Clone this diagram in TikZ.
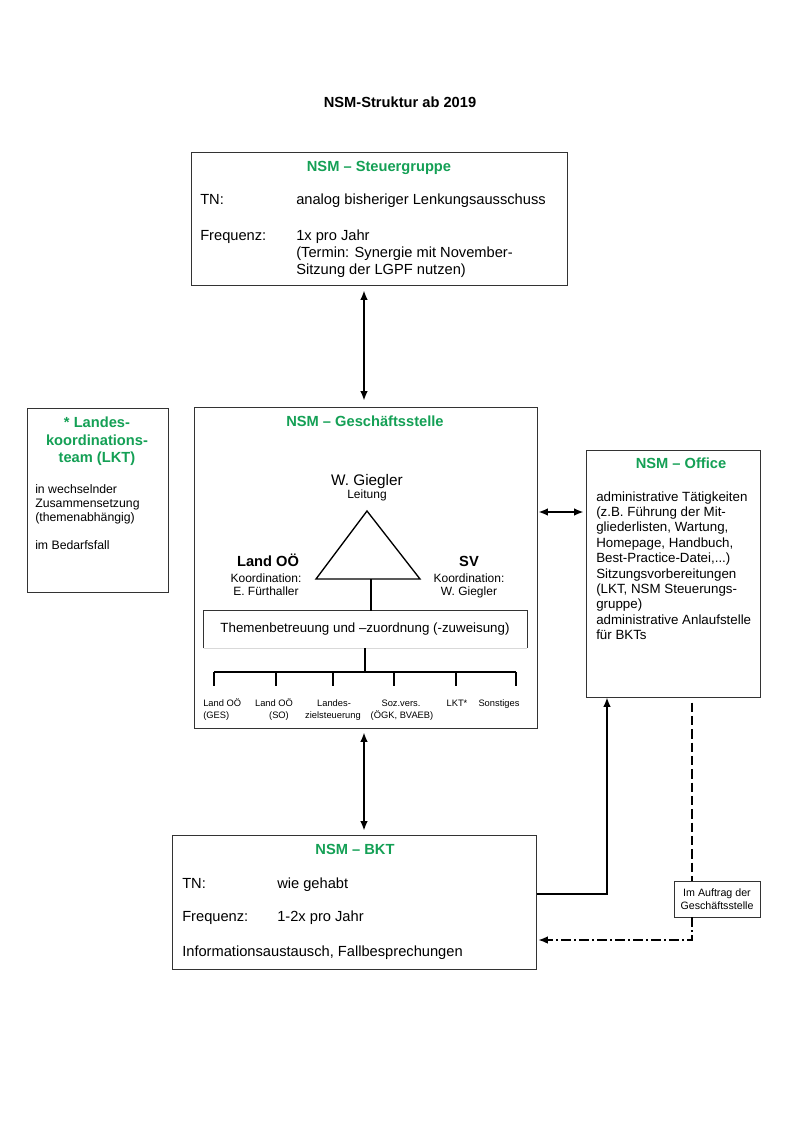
\documentclass[tikz,border=0pt]{standalone}
\usepackage{fontspec}
\setmainfont{Liberation Sans}
\usetikzlibrary{arrows.meta,fit,calc}
\definecolor{nsmgreen}{RGB}{20,160,85}
\begin{document}
\begin{tikzpicture}[x=0.75pt,y=-0.75pt,
  >={Latex[length=7pt,width=5.6pt]},
  box/.style={draw=black!80,line width=0.75pt,inner sep=0pt},
  gtitle/.style={font=\fontsize{11}{13}\selectfont\bfseries,text=nsmgreen,anchor=base,inner sep=0pt},
  btitle/.style={font=\fontsize{11}{13}\selectfont\bfseries,anchor=base,inner sep=0pt},
  txt/.style={font=\fontsize{11}{13}\selectfont,anchor=base west,inner sep=0pt},
  txtten/.style={font=\fontsize{10}{12}\selectfont,anchor=base west,inner sep=0pt},
  txtsmall/.style={font=\fontsize{9.2}{10}\selectfont,anchor=base west,inner sep=0pt},
  txtmid/.style={font=\fontsize{9}{10}\selectfont,anchor=base,inner sep=0pt},
  tinyc/.style={font=\fontsize{7}{8}\selectfont,anchor=base,inner sep=0pt},
  conn/.style={line width=1.1pt},
  dashline/.style={line width=0.9pt,dash pattern=on 7pt off 3pt},
  dashdotline/.style={line width=0.9pt,dash pattern=on 7pt off 2.5pt on 1.5pt off 2.5pt},
]
\fill[white] (0,0) rectangle (800,1131);
\useasboundingbox (0,0) rectangle (800,1131);

% helper coordinates
\coordinate (ax) at (364,0);
\coordinate (y512) at (0,512);
\coordinate (y894) at (0,894);
\coordinate (y940) at (0,940);
\coordinate (x607) at (607,0);
\coordinate (x692) at (692,0);

\node[btitle] (title) at (400,108) {NSM-Struktur ab 2019};

% Steuergruppe
\node[box,fit={(191,152)(567,285)}] (steuer) {};
\node[gtitle] (steuerT) at (379,171) {NSM – Steuergruppe};
\node[txt] (stn) at (200,204) {TN:};
\node[txt] (stnv) at (296,204) {analog bisheriger Lenkungsausschuss};
\node[txt] (sfr) at (200,240) {Frequenz:};
\node[txt] (sfr1) at (296,240) {1x pro Jahr};
\node[txt] (sfr2) at (296,257) {(Termin: Synergie mit November-};
\node[txt] (sfr3) at (296,274) {Sitzung der LGPF nutzen)};

% LKT
\node[box,fit={(27,408)(168,592)}] (lkt) {};
\node[gtitle] (lkt1) at (97,427) {* Landes-};
\node[gtitle] (lkt2) at (97,445) {koordinations-};
\node[gtitle] (lkt3) at (97,462) {team (LKT)};
\node[txtsmall] (lkt4) at (35,493) {in wechselnder};
\node[txtsmall] (lkt5) at (35,507) {Zusammensetzung};
\node[txtsmall] (lkt6) at (35,521) {(themenabhängig)};
\node[txtsmall] (lkt7) at (35,549) {im Bedarfsfall};

% Geschaeftsstelle
\node[box,fit={(194,407)(537,728)}] (gs) {};
\node[gtitle] (gsT) at (365,426) {NSM – Geschäftsstelle};
\node[font=\fontsize{11.5}{13}\selectfont,anchor=base,inner sep=0pt] (lead) at (367,485) {W. Giegler};
\node[txtmid] (leadr) at (367,498) {Leitung};
\coordinate (apex) at (367,511);
\coordinate (bl) at (316,579);
\coordinate (br) at (420,579);
\draw[line width=1pt] (apex) -- (bl) -- (br) -- cycle;
\node[btitle] (land) at (268,566) {Land OÖ};
\node[txtmid] (landk) at (266,582) {Koordination:};
\node[txtmid] (landn) at (266,595) {E. Fürthaller};
\node[btitle] (sv) at (469,566) {SV};
\node[txtmid] (svk) at (469,582) {Koordination:};
\node[txtmid] (svn) at (469,595) {W. Giegler};

\node[inner sep=0pt,fit={(204,611)(527,648)}] (themen) {};
\draw[line width=0.75pt,black!80] (themen.south west) -- (themen.north west) -- (themen.north east) -- (themen.south east);
\draw[line width=0.6pt,black!15] (themen.south west) -- (themen.south east);
\node[font=\fontsize{10}{12}\selectfont,anchor=base,inner sep=0pt] (themenT) at (365,632) {Themenbetreuung und –zuordnung (-zuweisung)};
\coordinate (tb) at (371,579);
\draw[conn] (tb) -- (tb |- themen.north);

\coordinate (hub) at (365,672);
\draw[conn] (themen.south -| hub) -- (hub);
\draw[conn] (214,672) -- (516,672);
\foreach \x in {214,276,333,394,456,516}
  \draw[conn] (\x,672) -- (\x,686);
\node[font=\fontsize{7}{8}\selectfont,anchor=base west,inner sep=0pt] (b1a) at (203,706) {Land OÖ};
\node[font=\fontsize{7}{8}\selectfont,anchor=base west,inner sep=0pt] (b1b) at (203,718) {(GES)};
\node[tinyc] (b2a) at (274,706) {Land OÖ};
\node[tinyc] (b2b) at (279,718) {(SO)};
\node[tinyc] (b3a) at (334,706) {Landes-};
\node[tinyc] (b3b) at (333,718) {zielsteuerung};
\node[tinyc] (b4a) at (401,706) {Soz.vers.};
\node[tinyc] (b4b) at (402,718) {(ÖGK, BVAEB)};
\node[tinyc] (b5a) at (457,706) {LKT*};
\node[tinyc] (b6a) at (499,706) {Sonstiges};

% Office
\node[box,fit={(586,450)(760,697)}] (office) {};
\node[gtitle] (officeT) at (681,468) {NSM – Office};
\node[txtten] (o1) at (596,501) {administrative Tätigkeiten};
\node[txtten] (o2) at (596,516.4) {(z.B. Führung der Mit-};
\node[txtten] (o3) at (596,531.8) {gliederlisten, Wartung,};
\node[txtten] (o4) at (596,547.2) {Homepage, Handbuch,};
\node[txtten] (o5) at (596,562.6) {Best-Practice-Datei,...)};
\node[txtten] (o6) at (596,578) {Sitzungsvorbereitungen};
\node[txtten] (o7) at (596,593.4) {(LKT, NSM Steuerungs-};
\node[txtten] (o8) at (596,608.8) {gruppe)};
\node[txtten] (o9) at (596,624.2) {administrative Anlaufstelle};
\node[txtten] (o10) at (596,639.6) {für BKTs};

% BKT
\node[box,fit={(172,835)(536,969)}] (bkt) {};
\node[gtitle] (bktT) at (355,854) {NSM – BKT};
\node[txt] (btn) at (182,888) {TN:};
\node[txt] (btnv) at (277,888) {wie gehabt};
\node[txt] (bfr) at (182,921) {Frequenz:};
\node[txt] (bfrv) at (277,921) {1-2x pro Jahr};
\node[txt] (binfo) at (182,956) {Informationsaustausch, Fallbesprechungen};

% Im Auftrag
\node[box,line width=0.7pt,fit={(674,881)(760,917)}] (auftrag) {};
\node[font=\fontsize{8}{10}\selectfont,align=center,inner sep=0pt] (auftragT) at (auftrag.center) {Im Auftrag der\\Geschäftsstelle};

% connectors
\draw[conn,<->] ($(steuer.south -| ax)+(0,5)$) -- ($(gs.north -| ax)+(0,-6)$);
\draw[conn,<->] ($(gs.east |- y512)+(1,0)$) -- ($(office.west |- y512)+(-2,0)$);
\draw[conn,<->] ($(gs.south -| ax)+(0,4)$) -- ($(bkt.north -| ax)+(0,-4)$);
\draw[conn,->] (bkt.east |- y894) -| (office.south -| x607);
\draw[dashline] ($(office.south -| x692)+(0,5)$) -- (auftrag.north -| x692);
\draw[dashdotline,->] (auftrag.south -| x692) |- ($(bkt.east |- y940)+(2,0)$);
\end{tikzpicture}
\end{document}
